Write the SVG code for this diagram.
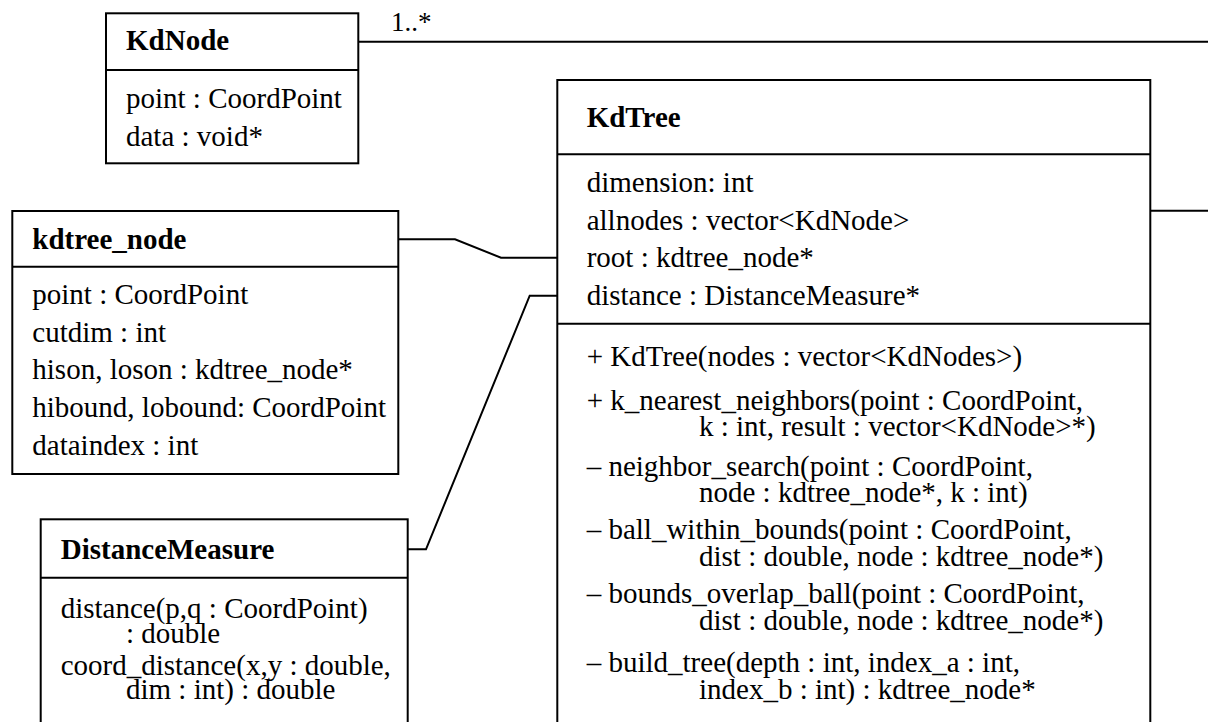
<svg xmlns="http://www.w3.org/2000/svg" width="1208" height="722" viewBox="0 0 1208 722" font-family="'Liberation Serif', Tinos, 'Nimbus Roman', 'Times New Roman', 'DejaVu Serif', serif">
  <style>
    .box { fill: #ffffff; stroke: #000000; stroke-width: 2; }
    .sep { stroke: #000000; stroke-width: 2; }
    .link { fill: none; stroke: #000000; stroke-width: 2; }
    text { font-family: 'Liberation Serif', Tinos, 'Nimbus Roman', 'Times New Roman', 'DejaVu Serif', serif; font-size: 29px; fill: #000000; }
    .title { font-weight: bold; }
    .mult { font-size: 27px; }
  </style>
  <rect width="1208" height="722" fill="#ffffff"/>

  <!-- associations -->
  <g id="connectors">
    <polyline class="link" points="358,41.7 1208,41.7"/>
    <polyline class="link" points="1150,210.7 1208,210.7"/>
    <polyline class="link" points="398,239.3 455,239.3 501,257.7 557.3,257.7"/>
    <polyline class="link" points="407.5,549.3 426,549.3 529.7,295.7 557.3,295.7"/>
    <text class="mult" x="391" y="30.7">1..*</text>
  </g>

  <!-- KdNode -->
  <g id="KdNode">
    <rect class="box" x="106" y="13.3" width="252.3" height="150"/>
    <line class="sep" x1="106" y1="70" x2="358.3" y2="70"/>
    <text class="title" x="126" y="50">KdNode</text>
    <text x="126" y="108.3">point : CoordPoint</text>
    <text x="126" y="146">data : void*</text>
  </g>

  <!-- kdtree_node -->
  <g id="kdtree_node">
    <rect class="box" x="12.3" y="211" width="386" height="263"/>
    <line class="sep" x1="12.3" y1="266.7" x2="398.3" y2="266.7"/>
    <text class="title" x="32.3" y="249.3">kdtree_node</text>
    <text x="32.3" y="304">point : CoordPoint</text>
    <text x="32.3" y="341.7">cutdim : int</text>
    <text x="32.3" y="379.3">hison, loson : kdtree_node*</text>
    <text x="32.3" y="417.3">hibound, lobound: CoordPoint</text>
    <text x="32.3" y="455">dataindex : int</text>
  </g>

  <!-- DistanceMeasure -->
  <g id="DistanceMeasure">
    <rect class="box" x="40.7" y="519.3" width="367" height="230"/>
    <line class="sep" x1="40.7" y1="577.7" x2="407.7" y2="577.7"/>
    <text class="title" x="60.7" y="559.3">DistanceMeasure</text>
    <text x="60.7" y="618.3">distance(p,q : CoordPoint)</text>
    <text x="126" y="643.3">: double</text>
    <text x="60.7" y="675">coord_distance(x,y : double,</text>
    <text x="126" y="699.3">dim : int) : double</text>
  </g>

  <!-- KdTree -->
  <g id="KdTree">
    <rect class="box" x="557.3" y="80" width="593" height="670"/>
    <line class="sep" x1="557.3" y1="154.3" x2="1150.3" y2="154.3"/>
    <line class="sep" x1="557.3" y1="323.7" x2="1150.3" y2="323.7"/>
    <text class="title" x="586.7" y="126.7">KdTree</text>
    <text x="586.7" y="191.7">dimension: int</text>
    <text x="586.7" y="229.5">allnodes : vector&lt;KdNode&gt;</text>
    <text x="586.7" y="267.3">root : kdtree_node*</text>
    <text x="586.7" y="305.3">distance : DistanceMeasure*</text>
    <text x="586.7" y="366">+ KdTree(nodes : vector&lt;KdNodes&gt;)</text>
    <text x="586.7" y="409.7">+ k_nearest_neighbors(point : CoordPoint,</text>
    <text x="699" y="435.6">k : int, result : vector&lt;KdNode&gt;*)</text>
    <text x="586.7" y="476">– neighbor_search(point : CoordPoint,</text>
    <text x="699" y="502">node : kdtree_node*, k : int)</text>
    <text x="586.7" y="539.2">– ball_within_bounds(point : CoordPoint,</text>
    <text x="699" y="565.7">dist : double, node : kdtree_node*)</text>
    <text x="586.7" y="603.2">– bounds_overlap_ball(point : CoordPoint,</text>
    <text x="699" y="629.7">dist : double, node : kdtree_node*)</text>
    <text x="586.7" y="671.8">– build_tree(depth : int, index_a : int,</text>
    <text x="699" y="699.3">index_b : int) : kdtree_node*</text>
  </g>
</svg>
